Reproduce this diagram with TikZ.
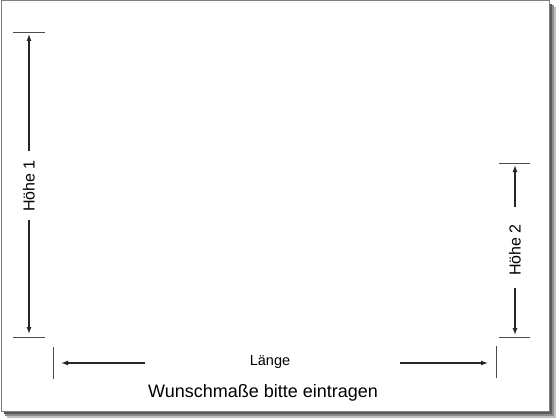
\documentclass[tikz,border=0pt]{standalone}
\usepackage{fontspec}
\setmainfont{Liberation Sans}
\usetikzlibrary{arrows.meta}
\begin{document}
\begin{tikzpicture}[x=1pt,y=-1pt,
  tick/.style={draw=black!70,line width=0.9pt},
  dim/.style={draw=black!85,line width=1.3pt,-{Latex[length=7pt,width=5pt]}},
  lbl/.style={font=\fontsize{14.5}{16}\selectfont,inner sep=0pt},
  vlbl/.style={font=\fontsize{16}{18}\selectfont,inner sep=0pt,rotate=90}]
\useasboundingbox (0,0) rectangle (560,420);
% shadow
\fill[black!25] (7,7) rectangle (556,418);
\fill[black!45] (5,5) rectangle (554,416);
\fill[black!65] (4,4) rectangle (552,414);
\filldraw[fill=white,draw=black!50,line width=1pt] (1,1) rectangle (549,411);
% left Höhe 1
\coordinate (l1a) at (13,32); \coordinate (l1b) at (45,32);
\coordinate (l2a) at (13,337); \coordinate (l2b) at (45,337);
\draw[tick] (l1a) -- (l1b);
\draw[tick] (l2a) -- (l2b);
\node[vlbl] (h1) at (29,186) {Höhe 1};
\coordinate (h1top) at (29,34); \coordinate (h1bot) at (29,334);
\draw[dim] (29,151) -- (h1top);
\draw[dim] (29,220) -- (h1bot);
% right Höhe 2
\coordinate (r1a) at (499,163); \coordinate (r1b) at (530,163);
\coordinate (r2a) at (499,337); \coordinate (r2b) at (530,337);
\draw[tick] (r1a) -- (r1b);
\draw[tick] (r2a) -- (r2b);
\node[vlbl] (h2) at (515,250) {Höhe 2};
\coordinate (h2top) at (515,165); \coordinate (h2bot) at (515,335);
\draw[dim] (515,207) -- (h2top);
\draw[dim] (515,288) -- (h2bot);
% bottom Länge
\draw[tick] (53,347) -- (53,379);
\draw[tick] (496,346) -- (496,378);
\node[lbl] (lg) at (270,362) {Länge};
\coordinate (lgl) at (61,363); \coordinate (lgr) at (488,363);
\draw[dim] (145,363) -- (lgl);
\draw[dim] (400,363) -- (lgr);
\node[inner sep=0pt,font=\fontsize{18}{20}\selectfont] (title) at (263,393) {Wunschmaße bitte eintragen};
\end{tikzpicture}
\end{document}
